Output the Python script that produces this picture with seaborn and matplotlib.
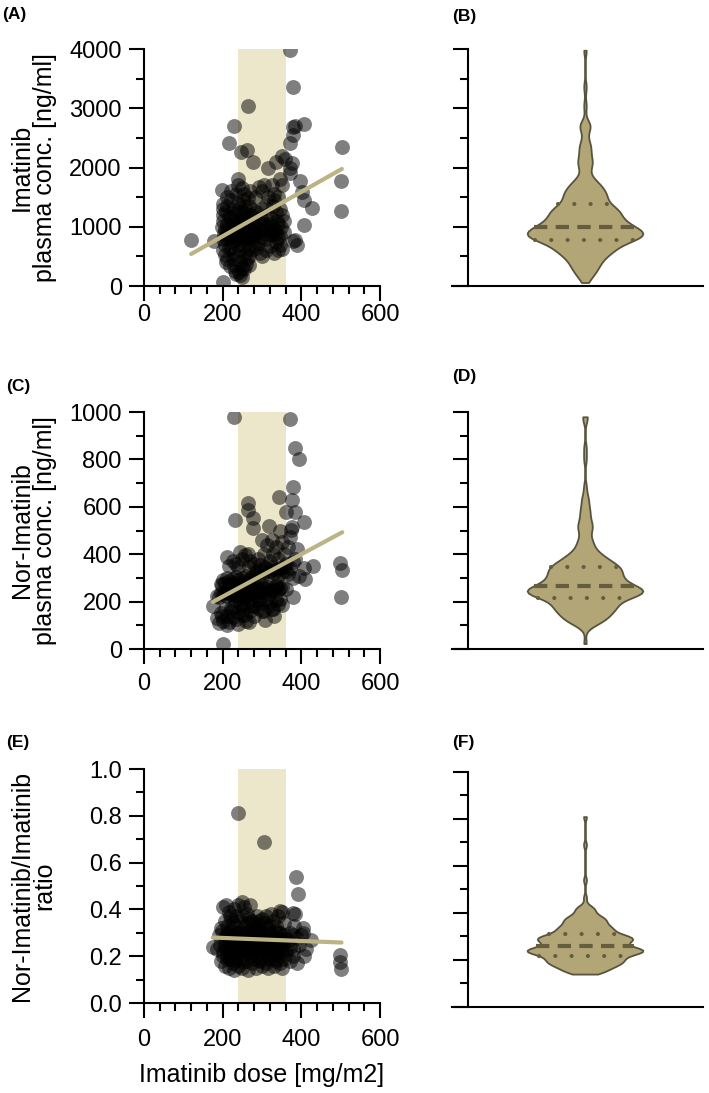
import matplotlib
matplotlib.use('Agg')
import matplotlib.pyplot as plt
import seaborn as sns
from matplotlib.ticker import MultipleLocator

# (A)/(B) imatinib: dose [mg/m2] vs plasma concentration [ng/ml]
ima_dose = [
    215, 230, 247, 262, 265, 277, 315, 336, 352, 358, 370, 378, 378, 385, 380, 372, 375,
    370, 372, 408, 503, 500, 406, 396, 402, 350, 345, 340, 330, 325, 305, 300, 292, 315,
    198, 210, 220, 222, 238, 240, 235, 238, 250, 255, 252, 270, 265, 282, 330,
    120, 178, 200, 205, 200, 205, 215, 212, 225, 220, 228, 225, 230, 232, 235, 238, 242,
    240, 245, 248, 242, 255, 265, 258, 262, 268, 255, 278, 272, 300, 310, 340, 330, 345,
    335, 388, 379, 383, 285, 295, 250, 245, 218, 208, 260, 290, 320, 350, 268,
    198, 203, 200, 212, 208, 222, 228, 236, 240, 240, 252, 258, 250, 262, 275, 270, 295,
    308, 310, 318, 332, 345, 348, 356, 290, 285, 215, 230, 245, 260, 280, 300, 325, 340,
    205, 218, 233, 248, 265, 278, 305, 320, 210, 225, 255, 270, 242, 228, 335,
    200, 202, 200, 200, 212, 208, 210, 225, 220, 225, 240, 235, 258, 250, 255, 260, 268,
    272, 268, 280, 285, 288, 298, 300, 305, 312, 322, 328, 335, 338, 340, 352, 355, 320,
    325, 500, 427, 408, 215, 230, 245, 262, 278, 292, 310, 232, 248, 275, 345,
]
ima_conc = [
    2410, 2700, 2270, 2300, 3040, 2090, 1990, 2100, 2200, 2150, 3980, 3360, 2680, 2700,
    2550, 2420, 2070, 2000, 1900, 2740, 2340, 1780, 1450, 1780, 1590, 1700, 1800, 1500,
    1560, 1700, 1700, 1600, 1670, 1510, 1620, 1500, 1600, 1450, 1800, 1700, 1550, 1400,
    1650, 1550, 1450, 1600, 1480, 1500, 1450,
    775, 760, 60, 700, 600, 520, 650, 450, 750, 650, 550, 450, 350, 250, 200, 700, 600,
    500, 400, 300, 230, 700, 620, 540, 450, 350, 280, 700, 600, 500, 600, 600, 560, 700,
    750, 690, 760, 770, 650, 550, 150, 180, 330, 400, 380, 720, 680, 620, 500,
    990, 900, 800, 950, 850, 950, 850, 900, 800, 980, 990, 920, 860, 790, 950, 850, 950,
    900, 800, 950, 950, 850, 990, 910, 800, 900, 820, 880, 940, 830, 870, 820, 880, 810,
    960, 870, 820, 785, 900, 820, 980, 860, 790, 920, 850, 960, 880, 980, 900,
    1100, 1200, 1300, 1380, 1350, 1250, 1050, 1300, 1150, 1050, 1250, 1100, 1350, 1250,
    1150, 1080, 1350, 1200, 1100, 1020, 1250, 1100, 1150, 1300, 1050, 1200, 1150, 1350,
    1250, 1100, 1050, 1200, 1100, 1050, 1010, 1260, 1310, 1030, 1180, 1030, 1320, 1220,
    1280, 1060, 1370, 1220, 1120, 1160, 1300,
]

# (C)/(D) nor-imatinib: dose [mg/m2] vs plasma concentration [ng/ml]
nor_dose = [
    229, 370, 383, 393, 379, 375, 383, 343, 264, 264, 277, 232, 277, 318, 375, 374, 370,
    406, 430, 499, 379, 362, 350, 335, 328, 340, 355, 320, 305, 290, 265, 258, 250, 235,
    210, 225, 245, 280, 300, 312, 345, 365, 360, 390, 270, 295, 325, 215, 385,
    408, 504, 410, 379, 200, 195, 205, 210, 215, 220, 225, 230, 235, 240, 245, 250, 255,
    260, 265, 270, 275, 280, 285, 290, 295, 300, 305, 310, 315, 320, 325, 330, 335, 340,
    345, 350, 355, 360, 365, 370, 198, 218, 238, 252, 268, 285, 308, 338, 395,
    185, 190, 195, 200, 205, 210, 215, 220, 225, 230, 235, 240, 245, 250, 255, 260, 265,
    270, 275, 280, 285, 290, 295, 300, 305, 310, 315, 320, 325, 330, 335, 340, 345, 350,
    360, 502, 379, 212, 222, 232, 242, 258, 272, 288, 302, 318, 228, 248, 262,
    201, 175, 307, 328, 185, 190, 195, 200, 205, 210, 215, 220, 225, 230, 235, 240, 245,
    250, 255, 260, 265, 270, 275, 280, 285, 290, 295, 300, 310, 315, 320, 325, 335, 340,
    345, 350, 212, 238, 258, 278, 222, 248, 268, 292, 198, 232, 252, 305, 330,
]
nor_conc = [
    980, 972, 848, 801, 685, 629, 580, 643, 615, 587, 551, 544, 509, 520, 516, 502, 471,
    537, 350, 365, 368, 580, 450, 430, 400, 380, 400, 370, 400, 380, 400, 395, 380, 360,
    390, 370, 410, 360, 460, 440, 500, 430, 360, 420, 370, 355, 460, 352, 380,
    340, 333, 295, 300, 290, 275, 280, 300, 285, 270, 295, 280, 305, 290, 275, 300, 285,
    310, 280, 295, 305, 290, 320, 300, 335, 310, 325, 340, 315, 330, 345, 320, 335, 310,
    340, 325, 345, 330, 315, 340, 270, 275, 345, 270, 345, 325, 345, 270, 310,
    225, 220, 235, 228, 240, 222, 232, 245, 226, 238, 230, 243, 236, 222, 248, 240, 232,
    250, 244, 236, 255, 242, 248, 258, 240, 252, 262, 246, 256, 250, 264, 248, 258, 262,
    255, 220, 220, 240, 262, 232, 252, 218, 262, 222, 262, 232, 248, 245, 228,
    23, 180, 121, 171, 130, 110, 150, 120, 170, 140, 115, 160, 135, 180, 125, 155, 190,
    145, 170, 120, 200, 160, 185, 140, 205, 175, 195, 160, 210, 180, 200, 170, 205, 190,
    210, 185, 100, 105, 145, 180, 175, 210, 115, 210, 140, 205, 180, 160, 140,
]

# (E)/(F) nor-imatinib / imatinib ratio
ratio_dose = [
    239, 305, 387, 392, 379, 383, 345, 382, 200, 208, 215, 222, 228, 235, 240, 248, 255,
    262, 270, 275, 282, 288, 295, 300, 308, 315, 322, 328, 335, 340, 350, 355, 212, 225,
    245, 258, 268, 205, 232, 252, 278, 292, 318, 218, 265, 285, 310, 195, 404,
    190, 198, 205, 210, 215, 220, 225, 230, 235, 240, 245, 250, 255, 260, 265, 270, 275,
    280, 285, 290, 295, 300, 305, 310, 315, 320, 325, 330, 335, 340, 345, 350, 355, 360,
    365, 370, 380, 390, 212, 228, 242, 262, 278, 298, 322, 342, 404, 425, 398,
    175, 185, 192, 200, 205, 210, 215, 220, 225, 230, 235, 240, 245, 250, 255, 260, 265,
    270, 275, 280, 285, 290, 295, 300, 305, 310, 315, 320, 325, 330, 335, 340, 345, 350,
    355, 360, 370, 380, 395, 412, 218, 238, 258, 278, 298, 318, 338, 205, 228,
    497, 497, 502, 406, 195, 200, 205, 210, 215, 220, 225, 230, 235, 240, 245, 250, 255,
    260, 265, 270, 275, 280, 285, 290, 295, 300, 305, 310, 315, 320, 325, 330, 335, 340,
    345, 350, 355, 360, 370, 380, 390, 212, 232, 252, 272, 292, 312, 332, 218,
]
ratio_val = [
    0.81, 0.69, 0.54, 0.465, 0.384, 0.38, 0.395, 0.33, 0.41, 0.42, 0.39, 0.36, 0.40, 0.37,
    0.42, 0.43, 0.41, 0.38, 0.42, 0.35, 0.34, 0.37, 0.33, 0.36, 0.34, 0.32, 0.38, 0.35,
    0.33, 0.37, 0.39, 0.34, 0.33, 0.34, 0.35, 0.33, 0.36, 0.35, 0.33, 0.37, 0.32, 0.35,
    0.33, 0.37, 0.34, 0.32, 0.37, 0.32, 0.32,
    0.29, 0.31, 0.28, 0.30, 0.27, 0.31, 0.29, 0.26, 0.30, 0.28, 0.31, 0.27, 0.29, 0.30,
    0.27, 0.31, 0.28, 0.30, 0.26, 0.29, 0.31, 0.27, 0.30, 0.28, 0.26, 0.30, 0.29, 0.27,
    0.31, 0.28, 0.30, 0.27, 0.29, 0.28, 0.27, 0.30, 0.29, 0.28, 0.29, 0.28, 0.30, 0.28,
    0.29, 0.29, 0.27, 0.30, 0.30, 0.27, 0.29,
    0.24, 0.23, 0.25, 0.22, 0.24, 0.23, 0.255, 0.22, 0.24, 0.235, 0.25, 0.22, 0.245, 0.23,
    0.25, 0.225, 0.24, 0.23, 0.255, 0.22, 0.24, 0.23, 0.25, 0.225, 0.245, 0.23, 0.25,
    0.22, 0.24, 0.235, 0.25, 0.22, 0.24, 0.23, 0.255, 0.225, 0.24, 0.23, 0.25, 0.23,
    0.245, 0.235, 0.245, 0.235, 0.245, 0.235, 0.245, 0.255, 0.255,
    0.206, 0.175, 0.145, 0.20, 0.18, 0.20, 0.16, 0.19, 0.15, 0.21, 0.17, 0.14, 0.20, 0.16,
    0.19, 0.15, 0.21, 0.18, 0.14, 0.20, 0.17, 0.19, 0.15, 0.21, 0.18, 0.16, 0.20, 0.17,
    0.15, 0.19, 0.21, 0.16, 0.18, 0.20, 0.17, 0.15, 0.19, 0.21, 0.18, 0.20, 0.17, 0.205,
    0.185, 0.175, 0.205, 0.185, 0.21, 0.19, 0.19,
]

target_range = (240, 360)
x_label = 'Imatinib dose [mg/m2]'
y_labels = ['Imatinib\nplasma conc. [ng/ml]',
            'Nor-Imatinib\nplasma conc. [ng/ml]',
            'Nor-Imatinib/Imatinib\nratio']

BAND = '#ece6cb'
REG = '#bdb486'
FILL = '#b3a676'
EDGE = '#57533f'
QUART = '#655d40'

sns.set_style('ticks')
plt.rcParams['font.family'] = ['Liberation Sans', 'DejaVu Sans']
plt.rcParams.update({
    'axes.linewidth': 1.5, 'axes.edgecolor': 'black', 'axes.labelcolor': 'black',
    'text.color': 'black', 'xtick.color': 'black', 'ytick.color': 'black',
})

fig = plt.figure(figsize=(7.09, 10.93), dpi=100)


def style_ticks(ax):
    ax.tick_params(which='major', length=11, width=1.5, colors='black', labelsize=17)
    ax.tick_params(which='minor', length=6, width=1.5, colors='black')


def scatter_panel(rect, dose, val, ymax, ymaj, ymin, ylabel, xpad, fmt=None):
    ax = fig.add_axes(rect)
    ax.axvspan(*target_range, color=BAND, lw=0, zorder=0)
    sns.scatterplot(x=dose, y=val, ax=ax, color='black', alpha=0.5, s=115,
                    linewidth=0, zorder=3)
    sns.regplot(x=dose, y=val, ax=ax, scatter=False, ci=None, color=REG,
                line_kws={'lw': 3, 'zorder': 4})
    ax.set_xlim(0, 600)
    ax.set_ylim(0, ymax)
    ax.xaxis.set_major_locator(MultipleLocator(200))
    ax.xaxis.set_minor_locator(MultipleLocator(40))
    ax.yaxis.set_major_locator(MultipleLocator(ymaj))
    ax.yaxis.set_minor_locator(MultipleLocator(ymin))
    if fmt:
        ax.yaxis.set_major_formatter(fmt)
    sns.despine(ax=ax)
    style_ticks(ax)
    ax.tick_params(axis='x', pad=xpad)
    ax.tick_params(axis='y', pad=5)
    ax.set_ylabel(ylabel, fontsize=18, linespacing=0.95)
    ax.yaxis.set_label_coords(-0.37, 0.5)
    ax.set_xlabel('')
    return ax


def violin_panel(rect, val, ymax, ymaj, ymin):
    ax = fig.add_axes(rect)
    sns.violinplot(y=val, ax=ax, color=FILL, linecolor=EDGE, linewidth=1.3,
                   saturation=1, inner='quart', cut=0, bw_adjust=0.45, width=0.87)
    for i, ln in enumerate(ax.lines[-3:]):
        ln.set_color(QUART)
        ln.set_linewidth(3)
        if i == 1:
            ln.set_linestyle((0, (3.2, 2.0)))
        else:
            ln.set_linestyle((0, (0.01, 3.9)))
            ln.set_dash_capstyle('round')
    ax.set_xlim(-1.0, 0.887)
    ax.set_ylim(0, ymax)
    ax.yaxis.set_major_locator(MultipleLocator(ymaj))
    ax.yaxis.set_minor_locator(MultipleLocator(ymin))
    ax.set_xticks([])
    ax.set_ylabel('')
    sns.despine(ax=ax)
    ax.spines['left'].set_position(('data', -0.88))
    style_ticks(ax)
    ax.tick_params(axis='y', labelleft=False)
    return ax


scatter_panel([0.2031, 0.7383, 0.3329, 0.2168], ima_dose, ima_conc,
              4000, 1000, 500, y_labels[0], xpad=2)
scatter_panel([0.2031, 0.4062, 0.3329, 0.2168], nor_dose, nor_conc,
              1000, 200, 100, y_labels[1], xpad=6)
ax_e = scatter_panel([0.2031, 0.0823, 0.3329, 0.2141], ratio_dose, ratio_val,
                     1.0, 0.2, 0.1, y_labels[2], xpad=8, fmt='{x:.1f}')
ax_e.set_xlabel(x_label, fontsize=18, labelpad=8)

violin_panel([0.6375, 0.7383, 0.354, 0.2168], ima_conc, 4000, 1000, 500)
violin_panel([0.6375, 0.4062, 0.354, 0.2168], nor_conc, 1000, 200, 100)
violin_panel([0.6375, 0.0787, 0.354, 0.215], ratio_val, 1.0, 0.2, 0.1)

for label, x, y in [('(A)', 2, 15), ('(B)', 452, 17), ('(C)', 6, 387),
                    ('(D)', 452, 377), ('(E)', 6, 742), ('(F)', 452, 742)]:
    fig.text(x / 709, 1 - y / 1093, label, fontsize=12.5, fontweight='bold',
             ha='left', va='center')

fig.savefig('out.png', dpi=100)
